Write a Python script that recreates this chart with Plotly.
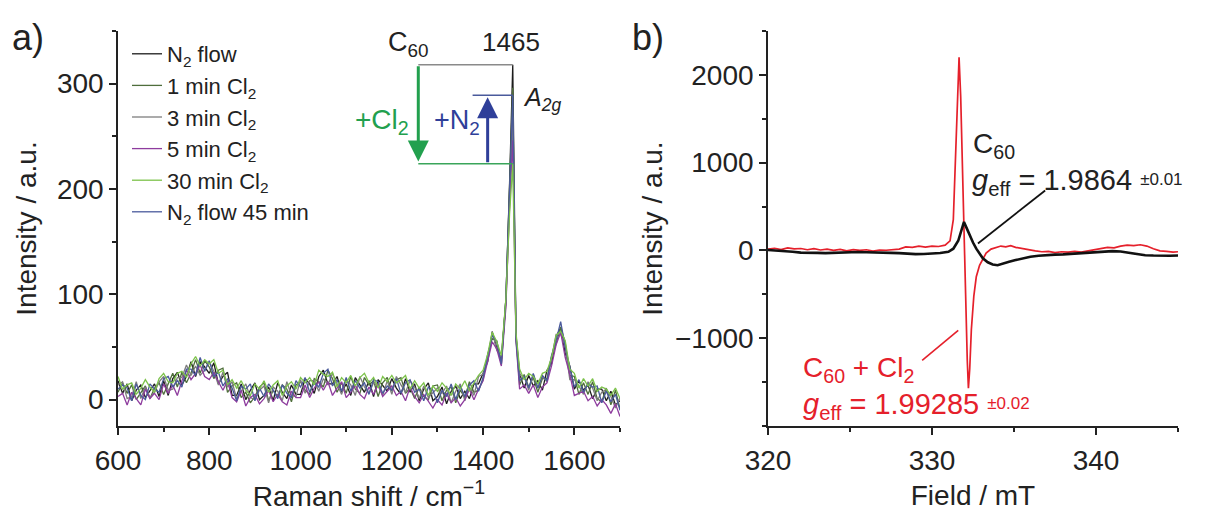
import plotly.graph_objects as go

# ---------------- Raman spectra (panel a) ----------------
raman_shift = list(range(600, 1460, 10)) + [1458, 1465, 1472] + list(range(1480, 1701, 10))

n2_flow = [
    18, 6, 15, -1, 9, 14, 2, 9, 15, 3,
    18, 4, 20, 26, 14, 22, 36, 22, 36, 31,
    25, 35, 15, 22, 26, 4, 4, 15, 0, 9,
    16, 0, 4, 12, -1, 16, 7, 1, 14, 5,
    5, 20, 15, 6, 22, 28, 15, 15, 22, 7,
    15, 4, 21, 14, 7, 18, 3, 19, 14, 8,
    20, 11, 5, 20, 7, 15, -1, 10, 16, -1,
    3, 12, -4, 8, 13, 1, 8, 1, 15, 15,
    25, 36, 64, 49, 38, 95,
    205, 318, 62,
    25, 11, 23, 13, 18, 9, 28, 34, 60, 68,
    44, 32, 10, 18, 9, 14, 1, 10, 10, -1,
    8, -5, -1,
]
cl2_1min = [
    7, 16, 6, 14, 0, 7, 13, 1, 11, 16,
    5, 15, 25, 12, 26, 16, 25, 38, 25, 37,
    31, 20, 28, 30, 7, 13, 16, 2, 7, -3,
    3, 12, 16, -1, 9, 3, 14, 10, -2, 14,
    17, 9, 5, 20, 17, 12, 28, 20, 7, 16,
    6, 22, 10, 6, 21, 14, 18, 3, 16, 21,
    8, 19, 21, 6, 11, 1, 12, 3, 0, 13,
    14, -1, 9, 12, -3, 9, 2, 17, 7, 9,
    19, 43, 58, 56, 33, 96,
    196, 296, 58,
    14, 24, 12, 21, 7, 20, 20, 41, 53, 69,
    54, 23, 22, 5, 16, 5, 17, 1, -2, 11,
    -5, 9, -9,
]
cl2_3min = [
    14, 17, 1, 3, 17, 1, 12, 2, 7, 17,
    22, 9, 10, 21, 21, 33, 23, 32, 23, 28,
    36, 27, 14, 26, 12, 17, 1, 8, 15, 2,
    0, 9, 13, -3, 12, 8, -1, 17, 4, 3,
    19, 6, 18, 18, 8, 20, 14, 25, 15, 5,
    19, 14, 4, 22, 12, 6, 16, 13, 4, 18,
    5, 22, 14, 7, 18, 12, 1, 13, 2, 7,
    11, 6, 13, -3, 8, 15, -1, 12, 4, 22,
    24, 38, 65, 47, 40, 91,
    190, 268, 60,
    23, 22, 9, 24, 11, 22, 17, 39, 62, 62,
    51, 19, 19, 13, 5, 17, 11, -1, 7, 10,
    3, -8, 2,
]
cl2_5min = [
    3, 6, -5, 7, 1, -5, 10, 1, 6, 0,
    15, 6, 14, 4, 18, 28, 19, 25, 33, 22,
    19, 26, 17, 9, 18, 2, -2, 9, -6, 2,
    5, -4, 1, 9, -2, 5, -2, -5, 8, 2,
    2, 14, 2, 11, 17, 9, 17, 4, 11, 17,
    2, 7, 14, 5, 1, 12, 5, 15, 3, 8,
    13, 4, 8, -1, 12, 3, -3, 5, -1, -8,
    0, -5, 6, -3, 2, -6, 0, 10, 0, 10,
    18, 38, 55, 48, 32, 88,
    184, 246, 56,
    10, 14, 6, 14, 2, 12, 16, 32, 52, 64,
    40, 24, 4, 6, 8, -1, 3, -6, 0, -5,
    -13, -4, -16,
]
cl2_30min = [
    22, 10, 14, 16, 5, 11, 19, 12, 7, 20,
    25, 17, 16, 25, 27, 21, 34, 41, 32, 38,
    34, 38, 25, 28, 14, 19, 11, 18, 9, 4,
    15, 10, 18, 7, 14, 18, 4, 13, 17, 10,
    21, 16, 21, 14, 28, 24, 22, 26, 12, 21,
    16, 23, 13, 21, 25, 16, 21, 11, 22, 17,
    23, 16, 19, 23, 10, 18, 11, 16, 4, 13,
    8, 16, 11, 4, 15, 10, 18, 8, 16, 23,
    28, 43, 64, 55, 42, 96,
    176, 224, 64,
    29, 19, 25, 22, 15, 25, 27, 40, 61, 65,
    56, 29, 25, 11, 20, 13, 20, 8, 12, 10,
    4, 11, 1,
]
n2_flow_45min = [
    10, 14, 11, -1, 15, 4, 0, 15, 10, 7,
    20, 22, 12, 18, 12, 29, 29, 23, 40, 27,
    37, 22, 26, 13, 20, 11, -1, 13, 10, 15,
    -1, 11, 3, 15, 9, 1, 14, 6, 2, 18,
    12, 21, 7, 16, 12, 25, 29, 13, 19, 8,
    21, 8, 18, 11, 16, 5, 19, 17, 6, 13,
    9, 20, 6, 16, 19, 7, 10, -1, 12, 9,
    -3, 9, 3, 15, 0, 13, 3, 14, 18, 8,
    21, 41, 61, 55, 34, 96,
    200, 289, 59,
    18, 22, 11, 25, 11, 23, 18, 42, 56, 74,
    50, 31, 12, 19, 7, 15, 12, 13, -3, 8,
    -2, 5, -10,
]

raman_labels = ["N<sub>2</sub> flow", "1 min Cl<sub>2</sub>", "3 min Cl<sub>2</sub>",
                "5 min Cl<sub>2</sub>", "30 min Cl<sub>2</sub>", "N<sub>2</sub> flow 45 min"]
raman_series = [n2_flow, cl2_1min, cl2_3min, cl2_5min, cl2_30min, n2_flow_45min]
raman_colors = ["#1c1c1c", "#4f6e3c", "#7d7d7d", "#8e3c9e", "#7cc24a", "#4a5a9c"]
draw_order = [0, 1, 2, 3, 5, 4]

# Peak heights of the 1465 cm-1 A2g band used by the bracket
peak_pos = 1465
peak_initial = 318      # N2 flow
peak_chlorinated = 224  # 30 min Cl2
peak_recovered = 289    # N2 flow 45 min

# ---------------- EPR spectra (panel b) ----------------
field_c60 = [
    320, 320.5, 321, 321.5, 322,
    322.5, 323, 323.5, 324, 324.5,
    325, 325.5, 326, 326.5, 327,
    327.5, 328, 328.5, 329, 329.5,
    330, 330.5, 331, 331.3, 331.6,
    331.8, 331.95, 332.1, 332.3, 332.5,
    332.7, 332.9, 333.1, 333.4, 333.7,
    334.0, 334.3, 334.7, 335.1, 335.5,
    336, 336.5, 337, 337.5, 338,
    338.5, 339, 339.5, 340, 340.5,
    341, 341.5, 342, 342.5, 343,
    343.5, 344, 344.5, 345,
]
epr_c60 = [
    5, 0, -5, -15, -25,
    -30, -28, -30, -25, -20,
    -22, -18, -20, -25, -22,
    -28, -30, -38, -42, -40,
    -35, -30, -15, 20, 110,
    250, 325, 260, 170, 90,
    20, -40, -90, -135, -160,
    -168, -155, -130, -110, -90,
    -72, -60, -50, -48, -45,
    -40, -35, -28, -22, -15,
    -8, -12, -28, -45, -55,
    -58, -55, -60, -58,
]
field_c60_cl2 = [
    320, 320.4, 320.8, 321.2, 321.6,
    322, 322.4, 322.8, 323.2, 323.6,
    324, 324.4, 324.8, 325.2, 325.6,
    326, 326.4, 326.8, 327.2, 327.6,
    328, 328.4, 328.8, 329.2, 329.6,
    330, 330.4, 330.8, 331.1, 331.3,
    331.45, 331.55, 331.65, 331.75, 331.85,
    331.95, 332.05, 332.15, 332.22, 332.3,
    332.4, 332.55, 332.7, 332.9, 333.1,
    333.3, 333.6, 333.9, 334.2, 334.5,
    334.8, 335.1, 335.5, 335.9, 336.3,
    336.7, 337.1, 337.5, 337.9, 338.3,
    338.7, 339.1, 339.5, 339.9, 340.3,
    340.7, 341.1, 341.5, 341.9, 342.3,
    342.7, 343.1, 343.5, 343.9, 344.3,
    344.7, 345,
]
epr_c60_cl2 = [
    15, 25, 10, 30, 18,
    22, 8, 20, 5, 15,
    0, 12, -5, 10, 0,
    8, -8, 5, 2, 12,
    15, 40, 35, 48, 38,
    50, 45, 60, 110, 350,
    1150, 1900, 2200, 1750, 900,
    150, -500, -1250, -1570, -1350,
    -900, -520, -300, -170, -90,
    -30, 15, 35, 50, 40,
    55, 35, 20, 5, -5,
    -15, -10, -25, -15, -20,
    -10, -18, -5, 5, 25,
    35, 30, 50, 60, 55,
    65, 50, 20, -5, -10,
    -20, -15,
]

FONT = "Liberation Sans, Arial, Helvetica, sans-serif"
INK = "#222222"
RED = "#e5202b"
GREEN = "#22a04e"
BLUE = "#2f3f99"
TICK_SIZE = 28
TITLE_SIZE = 28

W, H = 1205, 512
M_TOP, M_BOT = 31, 86
PLOT_H = H - M_TOP - M_BOT


def px_x(p):
    return p / W


def px_y(p):
    return (H - M_BOT - p) / PLOT_H


fig = go.Figure()

for i in draw_order:
    fig.add_trace(go.Scatter(
        x=raman_shift, y=raman_series[i], mode="lines", name=raman_labels[i],
        legendrank=i + 1,
        line=dict(color=raman_colors[i], width=1.3),
        xaxis="x", yaxis="y", showlegend=True,
    ))

fig.add_trace(go.Scatter(
    x=field_c60_cl2, y=epr_c60_cl2, mode="lines", line=dict(color=RED, width=1.7),
    xaxis="x2", yaxis="y2", showlegend=False,
))
fig.add_trace(go.Scatter(
    x=field_c60, y=epr_c60, mode="lines", line=dict(color="#111111", width=2.6),
    xaxis="x2", yaxis="y2", showlegend=False,
))

axis_common = dict(
    showline=True, linecolor=INK, linewidth=1.6, mirror=False,
    ticks="outside", ticklen=7, tickwidth=1.6, tickcolor=INK,
    showgrid=False, zeroline=False, automargin=False,
    tickfont=dict(family=FONT, size=TICK_SIZE, color=INK),
)
minor_common = dict(ticks="outside", ticklen=4, tickwidth=1.6, tickcolor=INK)

fig.update_layout(
    width=W, height=H,
    margin=dict(l=0, r=0, t=M_TOP, b=M_BOT),
    paper_bgcolor="white", plot_bgcolor="white",
    font=dict(family=FONT, color=INK),
    xaxis=dict(
        domain=[px_x(118), px_x(620)], range=[600, 1700], anchor="y",
        tickvals=[600, 800, 1000, 1200, 1400, 1600],
        minor=dict(dtick=100, tick0=600, **minor_common),
        ticklabelstandoff=2,
        title=dict(text="Raman shift / cm<sup>−1</sup>", font=dict(size=TITLE_SIZE, family=FONT, color=INK), standoff=10),
        **axis_common,
    ),
    yaxis=dict(
        domain=[0, 1], range=[-25, 350], anchor="x",
        tickvals=[0, 100, 200, 300],
        minor=dict(dtick=50, tick0=0, **minor_common),
        title=dict(text="Intensity / a.u.", font=dict(size=TITLE_SIZE, family=FONT, color=INK), standoff=12),
        **axis_common,
    ),
    xaxis2=dict(
        domain=[px_x(768), px_x(1178)], range=[320, 345], anchor="y2",
        tickvals=[320, 330, 340],
        minor=dict(tickvals=[325, 335, 345], **minor_common),
        ticklabelstandoff=2,
        title=dict(text="Field / mT", font=dict(size=TITLE_SIZE, family=FONT, color=INK), standoff=10),
        **axis_common,
    ),
    yaxis2=dict(
        domain=[0, 1], range=[-2000, 2500], anchor="x2",
        tickvals=[-1000, 0, 1000, 2000],
        minor=dict(dtick=500, tick0=0, **minor_common),
        title=dict(text="Intensity / a.u.", font=dict(size=TITLE_SIZE, family=FONT, color=INK), standoff=4),
        **axis_common,
    ),
    legend=dict(
        x=px_x(127), y=px_y(33), xanchor="left", yanchor="top",
        bgcolor="rgba(0,0,0,0)", font=dict(family=FONT, size=22, color=INK),
        itemwidth=30, tracegroupgap=0,
    ),
    showlegend=True,
)

# Bracket marking the change of the A2g band
fig.add_shape(type="line", xref="x", yref="y", x0=1258, x1=peak_pos, y0=peak_initial, y1=peak_initial,
              line=dict(color="#8a8a8a", width=1.4))
fig.add_shape(type="line", xref="x", yref="y", x0=1258, x1=peak_pos, y0=peak_chlorinated, y1=peak_chlorinated,
              line=dict(color="#3aa55a", width=1.4))
fig.add_shape(type="line", xref="x", yref="y", x0=1377, x1=peak_pos, y0=peak_recovered, y1=peak_recovered,
              line=dict(color="#4a5a9c", width=1.4))

fig.add_annotation(xref="x", yref="y", axref="x", ayref="y",
                   x=1258, y=peak_chlorinated + 2, ax=1258, ay=peak_initial,
                   text="", showarrow=True, arrowhead=2, arrowsize=1.4, arrowwidth=3, arrowcolor=GREEN)
fig.add_annotation(xref="x", yref="y", axref="x", ayref="y",
                   x=1410, y=peak_recovered - 2, ax=1410, ay=peak_chlorinated,
                   text="", showarrow=True, arrowhead=2, arrowsize=1.4, arrowwidth=3, arrowcolor=BLUE)

txt = dict(family=FONT, size=27, color=INK)
fig.add_annotation(xref="x", yref="y", x=1236, y=338, text="C<sub>60</sub>", showarrow=False,
                   font=txt, xanchor="center", yanchor="middle")
fig.add_annotation(xref="x", yref="y", x=1461, y=340, text="1465", showarrow=False,
                   font=dict(family=FONT, size=26, color=INK), xanchor="center", yanchor="middle")
fig.add_annotation(xref="x", yref="y", x=1482, y=285, text="<i>A</i><sub><i>2g</i></sub>", showarrow=False,
                   font=dict(family=FONT, size=25, color=INK), xanchor="left", yanchor="middle")
fig.add_annotation(xref="x", yref="y", x=1178, y=264, text="+Cl<sub>2</sub>", showarrow=False,
                   font=dict(family=FONT, size=28, color=GREEN), xanchor="center", yanchor="middle")
fig.add_annotation(xref="x", yref="y", x=1342, y=264, text="+N<sub>2</sub>", showarrow=False,
                   font=dict(family=FONT, size=27, color=BLUE), xanchor="center", yanchor="middle")

# EPR labels with leader lines
fig.add_shape(type="line", xref="x2", yref="y2", x0=332.8, y0=80, x1=336.9, y1=683,
              line=dict(color="#111111", width=1.8))
fig.add_shape(type="line", xref="x2", yref="y2", x0=331.6, y0=-911, x1=329.4, y1=-1253,
              line=dict(color=RED, width=1.6))

small = "<span style='font-size:17px;baseline-shift:5px'>{}</span>"
fig.add_annotation(xref="x2", yref="y2", x=332.35, y=1196, text="C<sub>60</sub>", showarrow=False,
                   font=dict(family=FONT, size=28, color=INK), xanchor="left", yanchor="middle")
fig.add_annotation(xref="x2", yref="y2", x=332.3, y=775,
                   text="<i>g</i><sub>eff</sub> = 1.9864 " + small.format("±0.01"),
                   showarrow=False, font=dict(family=FONT, size=29, color=INK), xanchor="left", yanchor="middle")
fig.add_annotation(xref="x2", yref="y2", x=322.0, y=-1360, text="C<sub>60</sub> + Cl<sub>2</sub>", showarrow=False,
                   font=dict(family=FONT, size=28, color=RED), xanchor="left", yanchor="middle")
fig.add_annotation(xref="x2", yref="y2", x=322.0, y=-1775,
                   text="<i>g</i><sub>eff</sub> = 1.99285 " + small.format("±0.02"),
                   showarrow=False, font=dict(family=FONT, size=29, color=RED), xanchor="left", yanchor="middle")

# Panel letters
fig.add_annotation(xref="paper", yref="paper", x=px_x(10), y=px_y(38), text="a)", showarrow=False,
                   font=dict(family=FONT, size=36, color=INK), xanchor="left", yanchor="middle")
fig.add_annotation(xref="paper", yref="paper", x=px_x(630), y=px_y(38), text="b)", showarrow=False,
                   font=dict(family=FONT, size=36, color=INK), xanchor="left", yanchor="middle")

fig.write_html("out.html")
